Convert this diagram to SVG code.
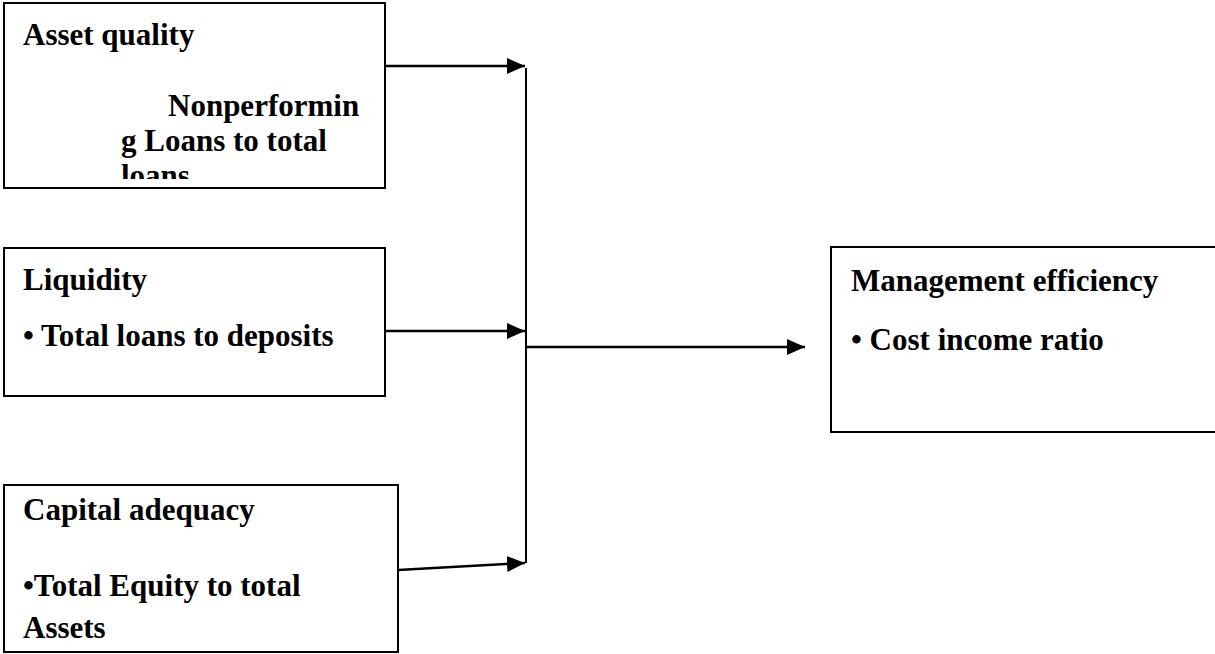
<svg xmlns="http://www.w3.org/2000/svg" width="1215" height="654" viewBox="0 0 1215 654">
<style>
.box{fill:#fff;stroke:#000;stroke-width:2}
.t{font-family:"Liberation Serif","Times New Roman",serif;font-weight:bold;font-size:31px;fill:#000}
.c{fill:none;stroke:#000;stroke-width:2.5}
</style>
<defs>
<marker id="ah" markerUnits="userSpaceOnUse" markerWidth="20" markerHeight="16" refX="18" refY="8" orient="auto">
<path d="M0,0 L18,8 L0,16 Z" fill="#000"/>
</marker>
<clipPath id="clip1"><rect x="5" y="4" width="378" height="175"/></clipPath>
</defs>
<rect width="1215" height="654" fill="#fff"/>
<g id="asset-quality">
<rect class="box" x="4" y="3" width="381" height="185"/>
<text class="t" x="23" y="45">Asset quality</text>
<g clip-path="url(#clip1)">
<text class="t" x="168" y="116">Nonperformin</text>
<text class="t" x="121" y="151">g Loans to total</text>
<text class="t" x="121" y="186">loans</text>
</g>
</g>
<g id="liquidity">
<rect class="box" x="4" y="248" width="381" height="148"/>
<text class="t" x="23" y="290">Liquidity</text>
<text class="t" x="23" y="346">• Total loans to deposits</text>
</g>
<g id="capital-adequacy">
<rect class="box" x="4" y="485" width="394" height="167"/>
<text class="t" x="23" y="520">Capital adequacy</text>
<text class="t" x="23" y="596">•Total Equity to total</text>
<text class="t" x="23" y="638">Assets</text>
</g>
<g id="management-efficiency">
<rect class="box" x="831" y="247" width="390" height="185"/>
<text class="t" x="851" y="291">Management efficiency</text>
<text class="t" x="851" y="350">• Cost income ratio</text>
</g>
<g id="connectors">
<line class="c" x1="385" y1="66" x2="525" y2="66" marker-end="url(#ah)"/>
<line class="c" x1="385" y1="331" x2="525" y2="331" marker-end="url(#ah)"/>
<line class="c" x1="398" y1="570" x2="525" y2="563" marker-end="url(#ah)"/>
<line class="c" x1="526" y1="68" x2="526" y2="563" style="stroke-width:2"/>
<line class="c" x1="526" y1="347" x2="805" y2="347" marker-end="url(#ah)"/>
</g>
</svg>
